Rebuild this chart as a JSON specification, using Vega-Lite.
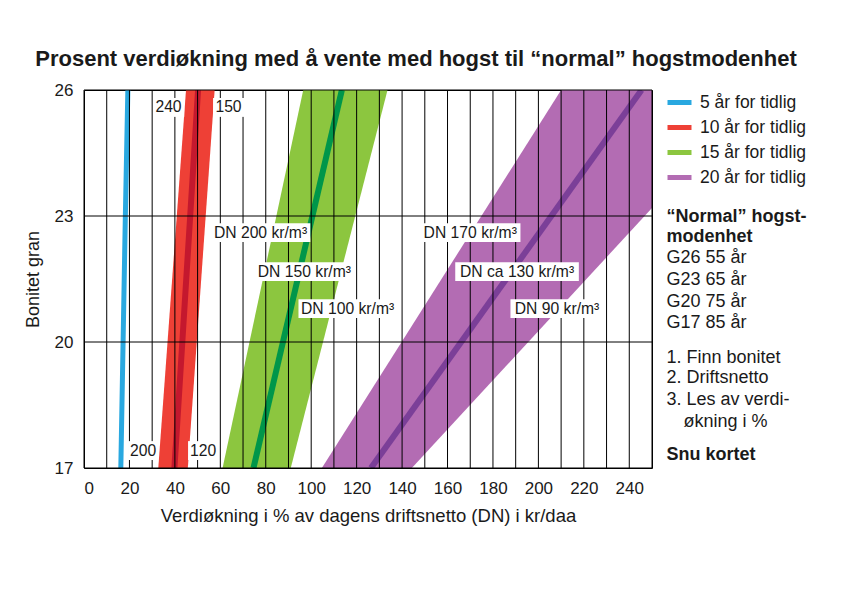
{
  "$schema": "https://vega.github.io/schema/vega-lite/v6.json",
  "width": 568,
  "height": 378,
  "autosize": "none",
  "padding": {"left": 84, "top": 90, "right": 190, "bottom": 127},
  "background": "white",
  "title": {
    "text": "Prosent verdiøkning med å vente med hogst til “normal” hogstmodenhet",
    "font": "Liberation Sans",
    "fontWeight": "bold",
    "fontSize": 22,
    "color": "#1a1a1a",
    "anchor": "middle",
    "dx": 48,
    "offset": 10
  },
  "config": {
    "font": "Liberation Sans",
    "view": {"stroke": "#000000", "strokeWidth": 1}
  },
  "datasets": {
    "bands": [
      {"serie": "10 år for tidlig", "y": 17, "lo": 32.7, "hi": 45.7},
      {"serie": "10 år for tidlig", "y": 26, "lo": 44.9, "hi": 57.5},
      {"serie": "15 år for tidlig", "y": 17, "lo": 61, "hi": 91},
      {"serie": "15 år for tidlig", "y": 26, "lo": 96.5, "hi": 133.6},
      {"serie": "20 år for tidlig", "y": 17, "lo": 104.7, "hi": 144.3},
      {"serie": "20 år for tidlig", "y": 26, "lo": 210, "hi": 298}
    ],
    "centre": [
      {"serie": "10 år for tidlig", "y": 17, "mid": 39.8},
      {"serie": "10 år for tidlig", "y": 26, "mid": 50.2},
      {"serie": "15 år for tidlig", "y": 17, "mid": 74.6},
      {"serie": "15 år for tidlig", "y": 26, "mid": 113.5},
      {"serie": "20 år for tidlig", "y": 17, "mid": 126.3},
      {"serie": "20 år for tidlig", "y": 26, "mid": 245.4}
    ],
    "blue": [
      {"serie": "\u20075 år for tidlig", "y": 17, "x": 16.2},
      {"serie": "\u20075 år for tidlig", "y": 23, "x": 18.2},
      {"serie": "\u20075 år for tidlig", "y": 26, "x": 19.3}
    ],
    "vgrid": [
      {"x": 0}, {"x": 10}, {"x": 20}, {"x": 30}, {"x": 40}, {"x": 50}, {"x": 60}, {"x": 70}, {"x": 80}, {"x": 90},
      {"x": 100}, {"x": 110}, {"x": 120}, {"x": 130}, {"x": 140}, {"x": 150}, {"x": 160}, {"x": 170}, {"x": 180},
      {"x": 190}, {"x": 200}, {"x": 210}, {"x": 220}, {"x": 230}, {"x": 240}, {"x": 250}
    ],
    "hgrid": [{"y": 17}, {"y": 20}, {"y": 23}, {"y": 26}],
    "labels": [
      {"label": "DN 200 kr/m³", "x": 77.7, "y": 22.6, "xa": 55.9, "xb": 99.6, "ya": 22.38, "yb": 22.83},
      {"label": "DN 150 kr/m³", "x": 97, "y": 21.67, "xa": 76.1, "xb": 117.9, "ya": 21.45, "yb": 21.9},
      {"label": "DN 100 kr/m³", "x": 116, "y": 20.79, "xa": 94.4, "xb": 137.7, "ya": 20.57, "yb": 21.02},
      {"label": "DN 170 kr/m³", "x": 170, "y": 22.6, "xa": 148, "xb": 192.1, "ya": 22.38, "yb": 22.83},
      {"label": "DN ca 130 kr/m³", "x": 190.6, "y": 21.67, "xa": 163.4, "xb": 217.8, "ya": 21.45, "yb": 21.9},
      {"label": "DN 90 kr/m³", "x": 208.2, "y": 20.79, "xa": 187.7, "xb": 228.8, "ya": 20.57, "yb": 21.02},
      {"label": "240", "x": 37.2, "y": 25.59, "xa": 30.4, "xb": 44.1, "ya": 25.36, "yb": 25.81},
      {"label": "150", "x": 63.6, "y": 25.59, "xa": 56.8, "xb": 70.5, "ya": 25.36, "yb": 25.81},
      {"label": "200", "x": 26, "y": 17.41, "xa": 19.4, "xb": 32.6, "ya": 17.19, "yb": 17.64},
      {"label": "120", "x": 52.4, "y": 17.41, "xa": 45.8, "xb": 59, "ya": 17.19, "yb": 17.64}
    ],
    "notesBold": [
      {"text": "“Normal” hogst-", "x": 256.4, "y": 22.98},
      {"text": "modenhet", "x": 256.4, "y": 22.51},
      {"text": "Snu kortet", "x": 256.4, "y": 17.31}
    ],
    "notesRegular": [
      {"text": "G26 55 år", "x": 256.4, "y": 21.99},
      {"text": "G23 65 år", "x": 256.4, "y": 21.48},
      {"text": "G20 75 år", "x": 256.4, "y": 20.96},
      {"text": "G17 85 år", "x": 256.4, "y": 20.45},
      {"text": "1. Finn bonitet", "x": 256.4, "y": 19.61},
      {"text": "2. Driftsnetto", "x": 256.4, "y": 19.14},
      {"text": "3. Les av verdi-", "x": 256.4, "y": 18.62},
      {"text": "økning i %", "x": 263.9, "y": 18.1}
    ]
  },
  "layer": [
    {
      "data": {"name": "bands"},
      "mark": {"type": "area", "orient": "horizontal", "clip": true},
      "encoding": {
        "y": {"field": "y", "type": "quantitative", "title": "Bonitet gran", "scale": {"domain": [17, 26], "nice": false, "zero": false}},
        "x": {"field": "lo", "type": "quantitative", "stack": null, "title": "Verdiøkning i % av dagens driftsnetto (DN) i kr/daa", "scale": {"domain": [0, 250], "nice": false, "zero": false}},
        "x2": {"field": "hi"},
        "fill": {
          "field": "serie", "type": "nominal",
          "scale": {
            "domain": ["10 år for tidlig", "15 år for tidlig", "20 år for tidlig"],
            "range": ["#ee4036", "#8cc63f", "#b36cb3"]
          },
          "legend": null
        }
      }
    },
    {
      "data": {"name": "centre"},
      "mark": {"type": "line", "strokeWidth": 6, "strokeCap": "butt", "clip": true},
      "encoding": {
        "y": {"field": "y", "type": "quantitative", "title": "Bonitet gran"},
        "x": {"field": "mid", "type": "quantitative", "title": "Verdiøkning i % av dagens driftsnetto (DN) i kr/daa"},
        "order": {"field": "y"},
        "stroke": {
          "field": "serie", "type": "nominal",
          "scale": {
            "domain": ["10 år for tidlig", "15 år for tidlig", "20 år for tidlig"],
            "range": ["#c4182e", "#00964a", "#7b3f98"]
          },
          "legend": null
        }
      }
    },
    {
      "data": {"name": "blue"},
      "mark": {"type": "line", "strokeWidth": 5, "strokeCap": "butt", "clip": true},
      "encoding": {
        "y": {"field": "y", "type": "quantitative", "title": "Bonitet gran"},
        "x": {"field": "x", "type": "quantitative", "title": "Verdiøkning i % av dagens driftsnetto (DN) i kr/daa"},
        "order": {"field": "y"},
        "color": {
          "field": "serie", "type": "nominal",
          "scale": {
            "domain": ["\u20075 år for tidlig", "10 år for tidlig", "15 år for tidlig", "20 år for tidlig"],
            "range": ["#29a8e0", "#ee4036", "#8cc63f", "#b36cb3"]
          },
          "legend": {
            "orient": "none", "legendX": 581, "legendY": -2, "title": null,
            "symbolType": "stroke", "symbolSize": 576, "symbolStrokeWidth": 5,
            "labelFontSize": 17.5, "labelOffset": 6, "labelColor": "#1a1a1a",
            "rowPadding": 0, "padding": 0, "labelLimit": 300
          }
        }
      }
    },
    {
      "data": {"name": "vgrid"},
      "mark": {"type": "rule", "color": "#000000", "strokeWidth": 1},
      "encoding": {
        "x": {
          "field": "x", "type": "quantitative",
          "title": "Verdiøkning i % av dagens driftsnetto (DN) i kr/daa",
          "axis": {
            "values": [0, 20, 40, 60, 80, 100, 120, 140, 160, 180, 200, 220, 240],
            "grid": false, "ticks": false, "domain": false,
            "labelFontSize": 17, "labelPadding": 12, "labelColor": "#1a1a1a",
            "titleFontSize": 18.5, "titlePadding": 10, "titleFontWeight": "normal", "titleColor": "#1a1a1a"
          }
        }
      }
    },
    {
      "data": {"name": "hgrid"},
      "mark": {"type": "rule", "color": "#000000", "strokeWidth": 1},
      "encoding": {
        "y": {
          "field": "y", "type": "quantitative",
          "title": "Bonitet gran",
          "axis": {
            "values": [17, 20, 23, 26], "grid": false, "ticks": false, "domain": false,
            "labelFontSize": 17, "labelPadding": 11, "labelColor": "#1a1a1a",
            "titleFontSize": 18, "titlePadding": 12, "titleFontWeight": "normal", "titleColor": "#1a1a1a"
          }
        }
      }
    },
    {
      "data": {"name": "labels"},
      "mark": {"type": "rect", "color": "#ffffff"},
      "encoding": {
        "x": {"field": "xa", "type": "quantitative", "title": "Verdiøkning i % av dagens driftsnetto (DN) i kr/daa"},
        "x2": {"field": "xb"},
        "y": {"field": "ya", "type": "quantitative", "title": "Bonitet gran"},
        "y2": {"field": "yb"}
      }
    },
    {
      "data": {"name": "labels"},
      "mark": {"type": "text", "fontSize": 15.7, "align": "center", "baseline": "middle", "color": "#1a1a1a"},
      "encoding": {
        "x": {"field": "x", "type": "quantitative", "title": "Verdiøkning i % av dagens driftsnetto (DN) i kr/daa"},
        "y": {"field": "y", "type": "quantitative", "title": "Bonitet gran"},
        "text": {"field": "label"}
      }
    },
    {
      "data": {"name": "notesBold"},
      "mark": {"type": "text", "fontSize": 18, "fontWeight": "bold", "align": "left", "baseline": "middle", "color": "#1a1a1a"},
      "encoding": {
        "x": {"field": "x", "type": "quantitative", "title": "Verdiøkning i % av dagens driftsnetto (DN) i kr/daa"},
        "y": {"field": "y", "type": "quantitative", "title": "Bonitet gran"},
        "text": {"field": "text"}
      }
    },
    {
      "data": {"name": "notesRegular"},
      "mark": {"type": "text", "fontSize": 18, "align": "left", "baseline": "middle", "color": "#1a1a1a"},
      "encoding": {
        "x": {"field": "x", "type": "quantitative", "title": "Verdiøkning i % av dagens driftsnetto (DN) i kr/daa"},
        "y": {"field": "y", "type": "quantitative", "title": "Bonitet gran"},
        "text": {"field": "text"}
      }
    }
  ]
}
